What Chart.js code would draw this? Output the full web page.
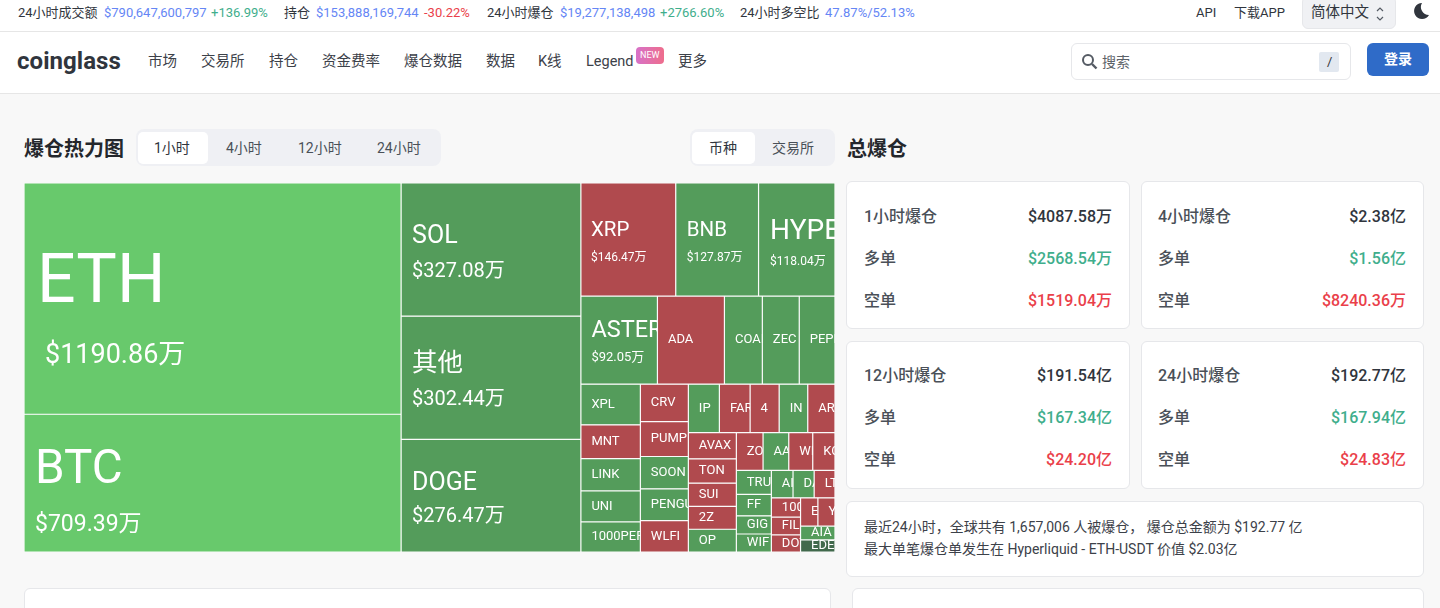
<!doctype html>
<html lang="zh">
<head>
<meta charset="utf-8">
<title>爆仓热力图</title>
<script src="https://cdn.jsdelivr.net/npm/chart.js@4"></script>
<style>
  html, body { margin: 0; padding: 0; }
  body { width: 1440px; height: 608px; overflow: hidden; position: relative; background: #f8f8f8;
         font-family: Roboto, "Noto Sans CJK SC", sans-serif; color: #3c4149; }
  .bar { position: absolute; left: 0; width: 1440px; background: #fff; border-bottom: 1px solid #e6e6e6; box-sizing: border-box; }
  .t { position: absolute; white-space: nowrap; line-height: 20px; }
  .top { font-size: 13px; top: 3px; color: #30353d; }
  .nav { font-size: 14.5px; top: 52px; color: #3c4149; }
  .blue { color: #6586f5; } .green { color: #3fae8c; } .red { color: #ea3f4a; }
  .box { position: absolute; box-sizing: border-box; }
  .card { position: absolute; box-sizing: border-box; background: #fff; border: 1px solid #e6e7ea; border-radius: 6px; }
  .h { font-size: 20px; font-weight: 700; color: #24272c; top: 139px; }
  .tab { font-size: 14px; top: 138px; color: #4a5058; }
  .lbl { font-size: 16px; font-weight: 500; color: #4a5058; }
  .val { font-size: 16px; font-weight: 500; color: #30353d; text-align: right; }
  .val.green { color: #3fae8c; } .val.red { color: #ea3f4a; }
  .note { font-size: 14px; color: #3c4149; left: 864px; }
  #heat { position: absolute; left: 24px; top: 183px; width: 811px; height: 369px; }
</style>
</head>
<body>
  <div class="bar" style="top:0;height:32px"></div>
  <div class="bar" style="top:32px;height:62px"></div>

  <span class="t top" style="left:18px">24小时成交额</span>
  <span class="t top blue" style="left:104px">$790,647,600,797</span>
  <span class="t top green" style="left:211px">+136.99%</span>
  <span class="t top" style="left:284px">持仓</span>
  <span class="t top blue" style="left:316px">$153,888,169,744</span>
  <span class="t top red" style="left:424px">-30.22%</span>
  <span class="t top" style="left:487px">24小时爆仓</span>
  <span class="t top blue" style="left:560px">$19,277,138,498</span>
  <span class="t top green" style="left:660px">+2766.60%</span>
  <span class="t top" style="left:740px">24小时多空比</span>
  <span class="t top blue" style="left:825px">47.87%/52.13%</span>
  <span class="t top" style="left:1196px">API</span>
  <span class="t top" style="left:1234px">下载APP</span>
  <div class="box" style="left:1302px;top:-4px;width:94px;height:33px;background:#f0f1f4;border-radius:6px;border:1px solid #e6e7ea"></div>
  <span class="t" style="left:1311px;top:3px;font-size:14.5px;color:#30353d">简体中文</span>
  <svg class="box" style="left:1375px;top:6px" width="10" height="16" viewBox="0 0 10 16"><path d="M2 5l3-3 3 3M2 11l3 3 3-3" fill="none" stroke="#555b64" stroke-width="1.2"/></svg>
  <svg class="box" style="left:1412px;top:2px" width="18" height="18" viewBox="0 0 18 18"><path d="M10 1a8 8 0 1 0 7 12A8 8 0 0 1 10 1z" fill="#30353d"/></svg>

  <span class="t" style="left:17px;top:46px;font-size:24px;line-height:30px;font-weight:700;color:#30353d;letter-spacing:.05px">coinglass</span>
  <span class="t nav" style="left:148px">市场</span>
  <span class="t nav" style="left:201px">交易所</span>
  <span class="t nav" style="left:269px">持仓</span>
  <span class="t nav" style="left:322px">资金费率</span>
  <span class="t nav" style="left:404px">爆仓数据</span>
  <span class="t nav" style="left:486px">数据</span>
  <span class="t nav" style="left:538px">K线</span>
  <span class="t nav" style="left:586px">Legend</span>
  <div class="box" style="left:636px;top:47px;width:28px;height:17px;border-radius:4px;background:linear-gradient(90deg,#d772c8,#ee6d8c)"></div>
  <span class="t" style="left:640px;top:46px;font-size:9px;line-height:18px;color:#fff">NEW</span>
  <span class="t nav" style="left:678px">更多</span>

  <div class="box" style="left:1071px;top:43px;width:280px;height:37px;background:#fff;border:1px solid #e6e7ea;border-radius:6px"></div>
  <svg class="box" style="left:1081px;top:53px" width="17" height="17" viewBox="0 0 17 17"><circle cx="7" cy="7" r="5" fill="none" stroke="#555b64" stroke-width="2"/><path d="M11 11l4.5 4.5" stroke="#555b64" stroke-width="2.4"/></svg>
  <span class="t" style="left:1102px;top:52px;font-size:14px;color:#5c6269">搜索</span>
  <div class="box" style="left:1319px;top:52px;width:20px;height:20px;background:#e2e8f0;border-radius:2px"></div>
  <span class="t" style="left:1327px;top:52px;font-size:13px;color:#333">/</span>
  <div class="box" style="left:1367px;top:43px;width:62px;height:33px;background:#2f6bc8;border-radius:6px"></div>
  <span class="t" style="left:1384px;top:49px;font-size:14px;font-weight:700;color:#fff">登录</span>

  <span class="t h" style="left:24px">爆仓热力图</span>
  <div class="box" style="left:136px;top:129px;width:305px;height:37px;background:#eff0f4;border-radius:8px"></div>
  <div class="box" style="left:138px;top:132px;width:70px;height:32px;background:#fff;border-radius:5px"></div>
  <span class="t tab" style="left:154px;color:#30353d">1小时</span>
  <span class="t tab" style="left:226px">4小时</span>
  <span class="t tab" style="left:298px">12小时</span>
  <span class="t tab" style="left:377px">24小时</span>
  <div class="box" style="left:690px;top:129px;width:145px;height:37px;background:#eff0f4;border-radius:8px"></div>
  <div class="box" style="left:692px;top:132px;width:63px;height:32px;background:#fff;border-radius:5px"></div>
  <span class="t tab" style="left:709px;color:#30353d">币种</span>
  <span class="t tab" style="left:772px">交易所</span>
  <span class="t h" style="left:847px">总爆仓</span>

  <div id="heat"><canvas id="heatCanvas"></canvas></div>

  <div class="card" style="left:846px;top:181px;width:284px;height:148px"></div>
  <div class="card" style="left:1141px;top:181px;width:283px;height:148px"></div>
  <div class="card" style="left:846px;top:341px;width:284px;height:148px"></div>
  <div class="card" style="left:1141px;top:341px;width:283px;height:148px"></div>
  <div class="card" style="left:846px;top:501px;width:578px;height:76px"></div>
  <div class="card" style="left:24px;top:588px;width:807px;height:60px"></div>
  <div class="card" style="left:852px;top:588px;width:572px;height:60px"></div>

  <span class="t lbl" style="left:864px;top:207px">1小时爆仓</span>
  <span class="t val" style="right:328px;top:207px">$4087.58万</span>
  <span class="t lbl" style="left:864px;top:249px">多单</span>
  <span class="t val green" style="right:328px;top:249px">$2568.54万</span>
  <span class="t lbl" style="left:864px;top:291px">空单</span>
  <span class="t val red" style="right:328px;top:291px">$1519.04万</span>

  <span class="t lbl" style="left:1158px;top:207px">4小时爆仓</span>
  <span class="t val" style="right:34px;top:207px">$2.38亿</span>
  <span class="t lbl" style="left:1158px;top:249px">多单</span>
  <span class="t val green" style="right:34px;top:249px">$1.56亿</span>
  <span class="t lbl" style="left:1158px;top:291px">空单</span>
  <span class="t val red" style="right:34px;top:291px">$8240.36万</span>

  <span class="t lbl" style="left:864px;top:366px">12小时爆仓</span>
  <span class="t val" style="right:328px;top:366px">$191.54亿</span>
  <span class="t lbl" style="left:864px;top:408px">多单</span>
  <span class="t val green" style="right:328px;top:408px">$167.34亿</span>
  <span class="t lbl" style="left:864px;top:450px">空单</span>
  <span class="t val red" style="right:328px;top:450px">$24.20亿</span>

  <span class="t lbl" style="left:1158px;top:366px">24小时爆仓</span>
  <span class="t val" style="right:34px;top:366px">$192.77亿</span>
  <span class="t lbl" style="left:1158px;top:408px">多单</span>
  <span class="t val green" style="right:34px;top:408px">$167.94亿</span>
  <span class="t lbl" style="left:1158px;top:450px">空单</span>
  <span class="t val red" style="right:34px;top:450px">$24.83亿</span>

  <span class="t note" style="top:517px">最近24小时，全球共有 1,657,006 人被爆仓， 爆仓总金额为 $192.77 亿</span>
  <span class="t note" style="top:539px">最大单笔爆仓单发生在 Hyperliquid - ETH-USDT 价值 $2.03亿</span>

<script>
  // liquidation per coin, in 万 USD, largest first
  const coinNames = ['ETH','BTC','SOL','其他','DOGE','XRP','BNB','HYPE','ASTER','ADA','COAI','ZEC','PEPE',
    'XPL','MNT','LINK','UNI','1000PEPE','CRV','PUMP','SOON','PENGU','WLFI','IP','FAR','4','IN','AR',
    'AVAX','TON','SUI','2Z','OP','ZO','AA','WI','KO','TRU','FF','GIG','WIF','AI','DA','LT',
    '100','FIL','DOT','E','Y','AIA','EDE'];
  const coinValues = [1190.86,709.39,327.08,302.44,276.47,146.47,127.87,118.04,92.05,80.6,45.6,44.4,43,
    33,27.5,26.2,25.2,24.4,24.6,22.8,21.2,20.8,20.6,20.5,20.3,19.2,18.9,18,
    17.2,16,15.2,15,14.9,13.8,13.3,12.4,11.5,11.5,10.2,8.7,8.6,8.1,7.9,7.8,
    7.7,7.1,6.8,6.7,6.6,6.5,5.7];
  // 'l' long heavy, 's' short heavy, 'L' strong long, 'n' neutral
  const coinKinds = ['L','L','l','l','l','s','l','l','l','s','l','l','l',
    'l','s','l','l','l','s','s','l','l','s','l','s','s','l','s',
    's','s','s','s','l','s','l','s','s','l','l','l','l','l','l','s',
    's','s','s','s','s','l','n'];
  // only the coins that print an amount
  const coinAmounts = { ETH:'$1190.86万', BTC:'$709.39万', SOL:'$327.08万', '其他':'$302.44万', DOGE:'$276.47万',
    XRP:'$146.47万', BNB:'$127.87万', HYPE:'$118.04万', ASTER:'$92.05万' };

  const kindColors = { L:'#68c96c', l:'#549c5b', s:'#b04a4e', n:'#41694c' };
  // name size, amount size, name x, amount x, name y and amount y from the cell middle
  const labelStyle = {
    ETH:[68,27,13,21,-14,58], BTC:[47.5,23,11,11,-12,42], SOL:[25,20,11,11,-13,22], '其他':[25.5,20,11,11,-13,22],
    DOGE:[25,20,11,11,-12,21], XRP:[20.5,12,10,10,-9,18], BNB:[20.5,12,11,11,-9,18], HYPE:[28,12,11.5,11.5,-8,22],
    ASTER:[23.5,13,10.5,10.5,-9,18]
  };
  const smallLabel = 13;
  const plotW = 811, plotH = 369;
  const squareRatio = 0.5 * (1 + Math.sqrt(5));

  function worst(row, area, side) {
    const f = side * side * squareRatio;
    return Math.max(f * Math.max(...row) / (area * area), area * area / (f * Math.min(...row)));
  }

  // squarified treemap in plot units, one {x0,y0,x1,y1} per value
  function squarify(values, w, h) {
    const total = values.reduce((a, b) => a + b, 0);
    const areas = values.map(v => v * w * h / total);
    const out = [];
    const rect = { x: 0, y: 0, w: w, h: h };
    let row = [], rowArea = 0, score = Infinity, i = 0;

    function place() {
      const side = Math.min(rect.w, rect.h);
      const across = rowArea / side;
      let pos = 0;
      const horizontal = side === rect.w;
      row.forEach(a => {
        const len = a / across;
        if (horizontal) {
          out.push({ x0: rect.x + pos, x1: rect.x + pos + len, y0: rect.y, y1: rect.y + across });
        } else {
          out.push({ x0: rect.x, x1: rect.x + across, y0: rect.y + pos, y1: rect.y + pos + len });
        }
        pos += len;
      });
      if (horizontal) { rect.y += across; rect.h -= across; } else { rect.x += across; rect.w -= across; }
      row = []; rowArea = 0; score = Infinity;
    }

    while (i < areas.length) {
      const side = Math.min(rect.w, rect.h);
      const next = worst(row.concat(areas[i]), rowArea + areas[i], side);
      if (next <= score) {
        row.push(areas[i]); rowArea += areas[i]; score = next; i++;
      } else {
        place();
      }
    }
    if (row.length) place();
    return out;
  }

  class TreemapController extends Chart.DatasetController {
    update(mode) {
      const meta = this._cachedMeta;
      this.updateElements(meta.data, 0, meta.data.length, mode);
    }
    updateElements(cells, start, count, mode) {
      const { xScale, yScale } = this._cachedMeta;
      const tiles = squarify(this.getDataset().data, xScale.max, yScale.max);
      for (let i = start; i < start + count; i++) {
        const t = tiles[i];
        const left = xScale.getPixelForValue(t.x0), right = xScale.getPixelForValue(t.x1);
        this.updateElement(cells[i], i, {
          x: (left + right) / 2,
          y: yScale.getPixelForValue(t.y0),
          base: yScale.getPixelForValue(t.y1),
          width: right - left,
          horizontal: false,
          inflateAmount: 0,
          enableBorderRadius: false,
          // BarElement reads this from the element, the bar controller normally sets it
          borderSkipped: { top: false, left: false, bottom: false, right: false },
          options: this.resolveDataElementOptions(i, mode)
        }, mode);
      }
    }
  }
  TreemapController.id = 'treemap';
  TreemapController.defaults = { dataElementType: 'bar' };
  Chart.register(TreemapController);

  const tileLabels = {
    id: 'tileLabels',
    afterDatasetsDraw(chart) {
      const ctx = chart.ctx;
      const family = 'Roboto, "Noto Sans CJK SC", sans-serif';
      chart.getDatasetMeta(0).data.forEach((cell, i) => {
        const name = coinNames[i];
        const s = labelStyle[name] || [smallLabel, 0, 10.5, 0, 0, 0];
        const left = cell.x - cell.width / 2, top = cell.y, h = cell.base - cell.y;
        const mid = top + h / 2;
        ctx.save();
        ctx.beginPath();
        ctx.rect(left, top, cell.width, h);
        ctx.clip();
        ctx.fillStyle = '#fff';
        ctx.textBaseline = 'middle';
        ctx.font = s[0] + 'px ' + family;
        ctx.fillText(name, left + s[2], mid + s[4]);
        if (coinAmounts[name]) {
          ctx.font = s[1] + 'px ' + family;
          ctx.fillText(coinAmounts[name], left + s[3], mid + s[5]);
        }
        ctx.restore();
      });
    }
  };

  new Chart(document.getElementById('heatCanvas'), {
    type: 'treemap',
    plugins: [tileLabels],
    data: {
      labels: coinNames,
      datasets: [{
        data: coinValues,
        backgroundColor: coinKinds.map(k => kindColors[k]),
        borderColor: '#ffffff',
        borderWidth: 0.6,
        borderSkipped: false
      }]
    },
    options: {
      responsive: true,
      maintainAspectRatio: false,
      animation: false,
      layout: { padding: 0 },
      events: [],
      plugins: { legend: { display: false }, tooltip: { enabled: false } },
      scales: {
        x: { type: 'linear', min: 0, max: plotW, display: false },
        y: { type: 'linear', min: 0, max: plotH, display: false, reverse: true }
      }
    }
  });
</script>
</body>
</html>
